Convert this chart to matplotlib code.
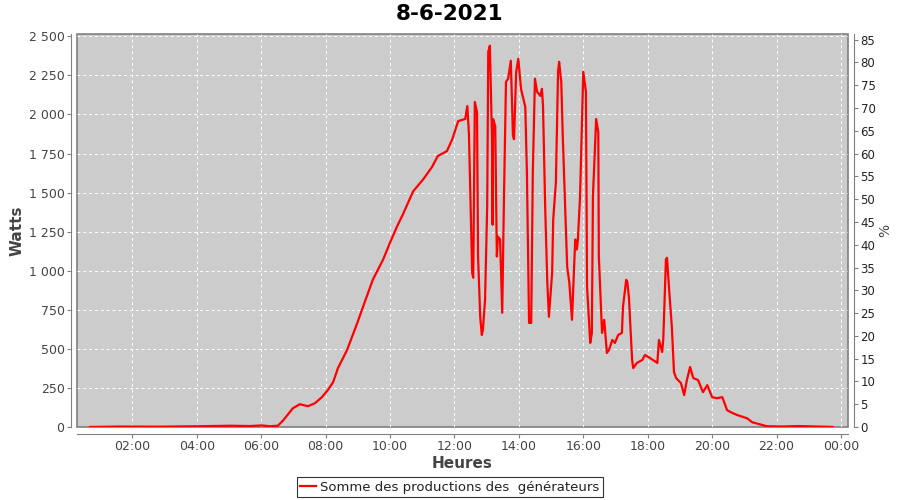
import matplotlib
matplotlib.use('Agg')
import matplotlib.pyplot as plt
from matplotlib.ticker import FixedLocator, FuncFormatter

# data (time of day, watts)
times = ['00:41', '01:37', '02:51', '04:06', '05:02', '05:39', '06:01', '06:16', '06:31',
         '06:41', '06:59', '07:12', '07:27', '07:40', '07:53', '08:04', '08:14', '08:23',
         '08:40', '08:59', '09:13', '09:28', '09:47', '10:00', '10:13', '10:24', '10:43',
         '11:02', '11:18', '11:29', '11:46', '11:56', '12:07', '12:20', '12:24', '12:27',
         '12:33', '12:35', '12:38', '12:42', '12:44', '12:48', '12:51', '12:53', '12:57',
         '13:01', '13:03', '13:06', '13:10', '13:11', '13:12', '13:16', '13:19', '13:21',
         '13:25', '13:29', '13:32', '13:36', '13:40', '13:45', '13:49', '13:51', '13:55',
         '13:59', '14:04', '14:12', '14:15', '14:19', '14:23', '14:26', '14:30', '14:34',
         '14:40', '14:43', '14:45', '14:49', '14:53', '14:56', '15:02', '15:04', '15:09',
         '15:13', '15:15', '15:19', '15:22', '15:30', '15:34', '15:39', '15:41', '15:45',
         '15:48', '15:50', '15:54', '15:58', '16:00', '16:05', '16:07', '16:13', '16:16',
         '16:18', '16:24', '16:28', '16:29', '16:35', '16:39', '16:44', '16:48', '16:54',
         '16:59', '17:05', '17:12', '17:14', '17:20', '17:22', '17:25', '17:31', '17:33',
         '17:40', '17:50', '17:55', '18:04', '18:18', '18:21', '18:27', '18:29', '18:34',
         '18:36', '18:40', '18:45', '18:49', '18:53', '19:02', '19:08', '19:13', '19:19',
         '19:25', '19:34', '19:43', '19:51', '20:00', '20:09', '20:19', '20:28', '20:39',
         '20:48', '21:05', '21:15', '21:29', '21:42', '22:10', '22:40', '23:05', '23:45']
watts = [0, 3, 2, 5, 8, 6, 10, 5, 8,
         43, 120, 146, 133, 152, 191, 236, 287, 377,
         493, 666, 801, 943, 1071, 1180, 1283, 1361, 1508,
         1586, 1663, 1734, 1766, 1842, 1958, 1971, 2054, 1874,
         987, 955, 2080, 2016, 1091, 705, 589, 621, 814,
         1412, 2402, 2440, 1842, 1295, 1971, 1926, 1091, 1219,
         1200, 731, 1412, 2209, 2229, 2344, 1862, 1842, 2273,
         2357, 2164, 2048, 1630, 666, 666, 1630, 2229, 2145,
         2119, 2164, 2055, 1412, 923, 705, 987, 1328, 1566,
         2273, 2337, 2209, 1842, 1026, 923, 686, 859, 1200,
         1136, 1200, 1476, 2016, 2273, 2145, 898, 538, 602,
         1476, 1971, 1887, 1091, 602, 686, 474, 493, 557,
         538, 589, 602, 769, 942, 929, 833, 429, 377,
         410, 429, 461, 442, 410, 557, 480, 557, 1071,
         1083, 878, 641, 352, 313, 281, 204, 300, 384,
         313, 300, 223, 268, 191, 184, 191, 107, 88,
         75, 56, 30, 17, 5, 3, 6, 4, 0]

hours = [int(t[:2]) + int(t[3:]) / 60 for t in times]
xticks = [2, 4, 6, 8, 10, 12, 14, 16, 18, 20, 22, 24]
yticks = [0, 250, 500, 750, 1000, 1250, 1500, 1750, 2000, 2250, 2500]
pticks = list(range(0, 90, 5))

grey = '#444444'
plt.rcParams['font.family'] = ['DejaVu Sans']

fig = plt.figure(figsize=(9, 5), dpi=100)
ax = fig.add_axes([77 / 900, 1 - 427 / 500, 771 / 900, 393 / 500])
ax.set_facecolor('#cccccc')
ax.plot(hours, watts, color='#ff0000', lw=1.6, solid_joinstyle='round')

ax.set_xlim(0.28, 24.22)
ax.set_ylim(0, 2515)
ax.xaxis.set_major_locator(FixedLocator(xticks))
ax.xaxis.set_major_formatter(FuncFormatter(lambda v, p: '%02d:00' % (int(round(v)) % 24)))
ax.yaxis.set_major_locator(FixedLocator(yticks))
ax.yaxis.set_major_formatter(FuncFormatter(lambda v, p: '{:,}'.format(int(v)).replace(',', ' ')))
ax.grid(True, color='white', ls=(0, (3, 3)), lw=0.7)

for s in ax.spines.values():
    s.set_color('#808080')
ax.spines['left'].set_position(('outward', 4))
ax.spines['bottom'].set_position(('outward', 5))
ax.spines['right'].set_visible(False)
ax.spines['top'].set_visible(False)
# plot outline
ax.add_patch(plt.Rectangle((0, 0), 1, 1, transform=ax.transAxes, fill=False,
                           ec='#808080', lw=1.2, clip_on=False))

ax.tick_params(axis='both', colors='#808080', labelcolor=grey, length=3, labelsize=9)
ax.tick_params(axis='x', pad=1.5)
ax.tick_params(axis='y', pad=2)

ax2 = ax.twinx()
ax2.set_ylim(0, 86.25)
ax2.yaxis.set_major_locator(FixedLocator(pticks))
ax2.tick_params(axis='y', colors='#808080', labelcolor='#222222', length=3, labelsize=8.5, pad=2)
for s in ['left', 'top', 'bottom']:
    ax2.spines[s].set_visible(False)
ax2.spines['right'].set_position(('outward', 4))
ax2.spines['right'].set_color('#808080')
ax2.set_ylabel('%', color=grey, fontsize=10, labelpad=2)

ax.set_ylabel('Watts', color=grey, fontsize=11, fontweight='bold', labelpad=3)
ax.set_xlabel('Heures', color=grey, fontsize=11, fontweight='bold', labelpad=2)
fig.text(0.5, 0.992, '8-6-2021', ha='center', va='top', fontsize=15.5,
         fontweight='bold')

leg = ax.legend([ax.lines[0]], ['Somme des productions des  générateurs'],
                loc='center', bbox_to_anchor=(450 / 900, 1 - 487 / 500),
                bbox_transform=fig.transFigure, fontsize=9.5, frameon=True,
                fancybox=False, handlelength=1.2, handletextpad=0.3,
                borderpad=0.3, labelcolor='#222222')
leg.get_frame().set_edgecolor('black')
leg.get_frame().set_linewidth(0.8)

fig.savefig('out.png', dpi=100, facecolor='white')
